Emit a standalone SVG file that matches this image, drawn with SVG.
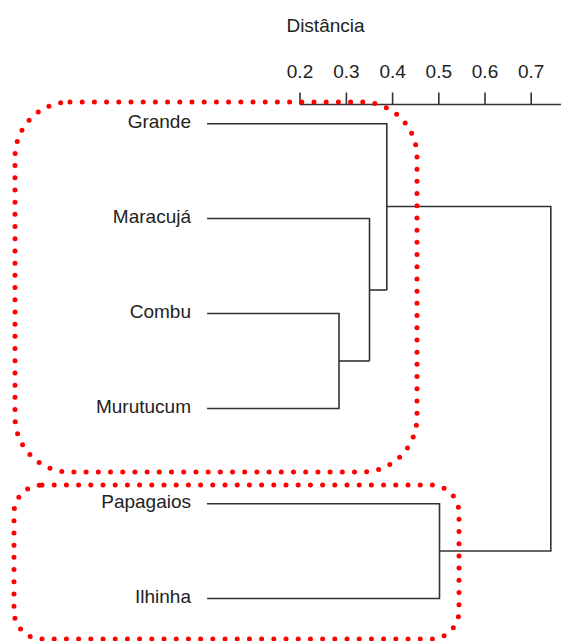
<svg xmlns="http://www.w3.org/2000/svg" width="561" height="641" viewBox="0 0 561 641">
  <style>
    .lbl { font-family: "Liberation Sans", Arial, sans-serif; font-size: 19px; fill: #222; }
    .leaf { text-anchor: end; }
    .tick { text-anchor: middle; }
    .branch { fill: none; stroke: #333; stroke-width: 1.6; stroke-linejoin: miter; }
    .group { fill: none; stroke: #ff0000; stroke-width: 5; stroke-linecap: round; stroke-dasharray: 0 12.2; }
  </style>
  <rect width="561" height="641" fill="#ffffff"/>

  <!-- distance axis -->
  <g id="axis">
    <text class="lbl" x="325.5" y="32" text-anchor="middle">Distância</text>
    <path class="branch" d="M300 104.5H561M300 92.5V104.5M346.4 92.5V104.5M392.6 92.5V104.5M438.8 92.5V104.5M485 92.5V104.5M531.2 92.5V104.5"/>
    <text class="lbl tick" x="300" y="78">0.2</text>
    <text class="lbl tick" x="346.4" y="78">0.3</text>
    <text class="lbl tick" x="392.6" y="78">0.4</text>
    <text class="lbl tick" x="438.8" y="78">0.5</text>
    <text class="lbl tick" x="485" y="78">0.6</text>
    <text class="lbl tick" x="531.2" y="78">0.7</text>
  </g>

  <!-- leaves -->
  <g id="grande"><text class="lbl leaf" x="191" y="128">Grande</text></g>
  <g id="maracuja"><text class="lbl leaf" x="191" y="223">Maracujá</text></g>
  <g id="combu"><text class="lbl leaf" x="191" y="318">Combu</text></g>
  <g id="murutucum"><text class="lbl leaf" x="191" y="413">Murutucum</text></g>
  <g id="papagaios"><text class="lbl leaf" x="191" y="508">Papagaios</text></g>
  <g id="ilhinha"><text class="lbl leaf" x="191" y="603">Ilhinha</text></g>

  <!-- dendrogram branches -->
  <g id="connectors">
    <path class="branch" d="M207 313.5H339V408.5H207"/>
    <path class="branch" d="M339 361H369.5"/>
    <path class="branch" d="M207 218.5H369.5V361"/>
    <path class="branch" d="M369.5 290H386.8"/>
    <path class="branch" d="M207 123.8H386.8V290"/>
    <path class="branch" d="M207 503.8H439.5V598.5H207"/>
    <path class="branch" d="M386.8 206.5H550.8V551H439.5"/>
  </g>

  <!-- dotted cluster outlines -->
  <g id="cluster-1"><rect class="group" x="15" y="102" width="402" height="370" rx="55" ry="55"/></g>
  <g id="cluster-2"><rect class="group" x="14" y="485" width="445" height="154" rx="28" ry="28"/></g>
</svg>
